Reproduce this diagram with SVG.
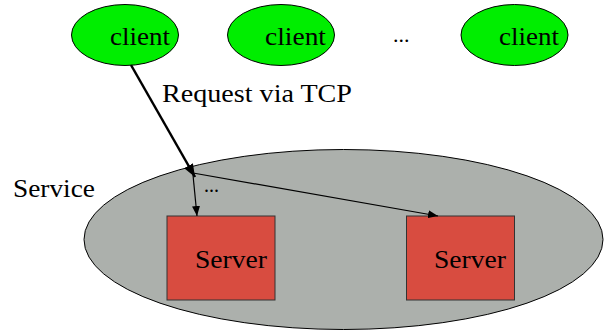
<svg xmlns="http://www.w3.org/2000/svg" width="605" height="330" viewBox="0 0 605 330">
<style>
.client{fill:#00ee00;stroke:#000;stroke-width:1}
.server{fill:#d84c40;stroke:#333;stroke-width:1}
</style>
<defs>
<marker id="ah" viewBox="0 0 10 8" refX="10" refY="4" markerWidth="10" markerHeight="8" markerUnits="userSpaceOnUse" orient="auto"><path d="M0,0 L10,4 L0,8 Z" fill="#000"/></marker>
<marker id="ahb" viewBox="0 0 13 10" refX="13" refY="5" markerWidth="13" markerHeight="10" markerUnits="userSpaceOnUse" orient="auto"><path d="M0,0 L13,5 L0,10 Z" fill="#000"/></marker>
</defs>
<rect width="605" height="330" fill="#fff"/>
<g font-family="'Liberation Serif', 'Times New Roman', serif" fill="#000">
<g id="service">
<ellipse cx="343.5" cy="239.5" rx="259.5" ry="90" fill="#acb0ac" stroke="#000" stroke-width="1"/>
<text x="13" y="196.5" font-size="25" textLength="82" lengthAdjust="spacingAndGlyphs">Service</text>
</g>
<g id="client1">
<ellipse class="client" cx="125" cy="35" rx="53.5" ry="30.5"/>
<text x="110" y="44.5" font-size="25" textLength="60" lengthAdjust="spacingAndGlyphs">client</text>
</g>
<g id="client2">
<ellipse class="client" cx="281" cy="35" rx="53.5" ry="30.5"/>
<text x="265" y="44.5" font-size="25" textLength="61" lengthAdjust="spacingAndGlyphs">client</text>
</g>
<g id="ellipsis-clients">
<text x="393" y="42" font-size="22">...</text>
</g>
<g id="client3">
<ellipse class="client" cx="514.5" cy="35" rx="53.5" ry="30.5"/>
<text x="499" y="44.5" font-size="25" textLength="60" lengthAdjust="spacingAndGlyphs">client</text>
</g>
<g id="server1">
<rect class="server" x="167" y="216" width="108" height="84"/>
<text x="195" y="268" font-size="25" textLength="72" lengthAdjust="spacingAndGlyphs">Server</text>
</g>
<g id="server2">
<rect class="server" x="406.5" y="216" width="108" height="84"/>
<text x="434" y="268" font-size="25" textLength="72" lengthAdjust="spacingAndGlyphs">Server</text>
</g>
<g id="connectors">
<line x1="131" y1="65" x2="195" y2="177" stroke="#000" stroke-width="2.5" marker-end="url(#ahb)"/>
<line x1="193" y1="175" x2="197" y2="216" stroke="#000" stroke-width="1.2" marker-end="url(#ah)"/>
<line x1="193" y1="173" x2="438" y2="216" stroke="#000" stroke-width="1.2" marker-end="url(#ah)"/>
<text x="162" y="101.5" font-size="25" textLength="190" lengthAdjust="spacingAndGlyphs">Request via TCP</text>
<text x="204" y="192" font-size="20">...</text>
</g>
</g>
</svg>
